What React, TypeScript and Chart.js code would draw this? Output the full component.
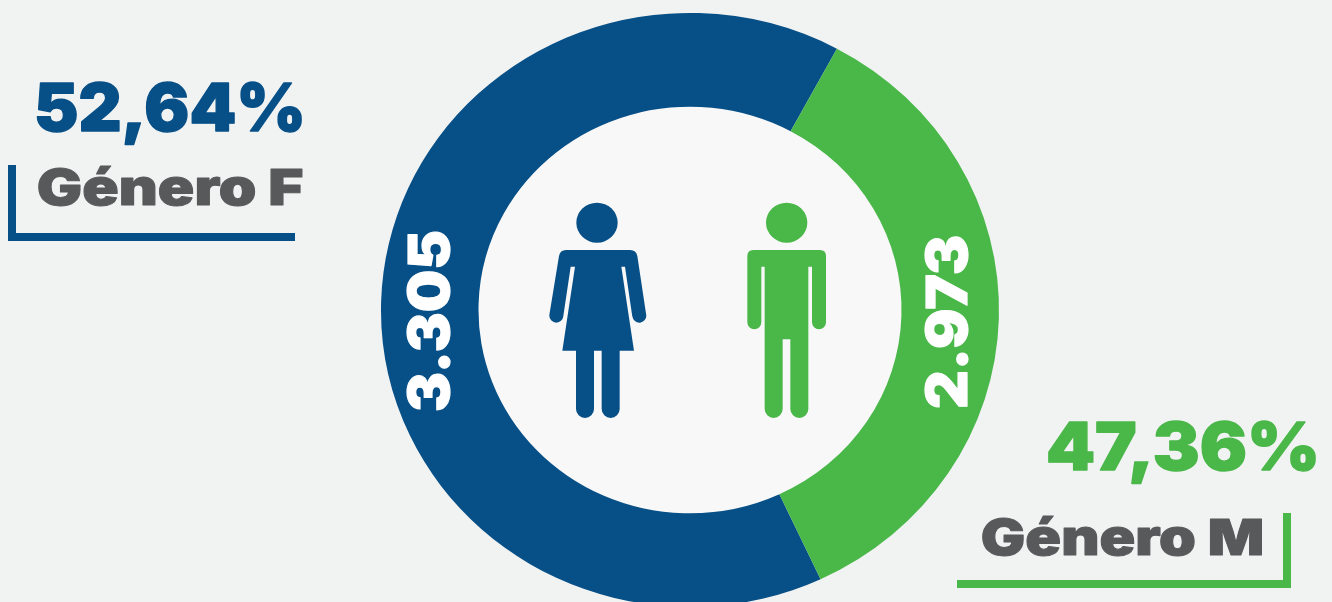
import React, { useEffect, useRef } from "react";
import { Chart, registerables } from "chart.js";

Chart.register(...registerables);

// Slice sizes as they are drawn in the picture (its arcs are not proportional to the printed counts)
const categories = ["Género F", "Género M"];
const sliceShares = [64.83, 35.17];
const countLabels = ["3.305", "2.973"];
const percentLabels = ["52,64%", "47,36%"];

const BG = "#f1f3f3";
const DISC = "#f8f8f9";
const BLUE = "#074f87";
const GREEN = "#4ab749";
const GRAY = "#58595b";
const WHITE = "#ffffff";
const FONT = "Inter, 'Noto Sans', sans-serif";
const SQUASH = 0.9612;
const CENTER_Y = 310;

function fitText(
  ctx: CanvasRenderingContext2D,
  text: string,
  x: number,
  baseline: number,
  width: number,
  size: number,
  color: string,
  rotate = false
) {
  ctx.save();
  ctx.font = `900 ${size}px ${FONT}`;
  ctx.fillStyle = color;
  ctx.strokeStyle = color;
  ctx.lineJoin = "round";
  ctx.lineWidth = size * 0.02;
  ctx.textAlign = "left";
  ctx.textBaseline = "alphabetic";
  const m = ctx.measureText(text);
  const left = m.actualBoundingBoxLeft;
  const w = m.actualBoundingBoxLeft + m.actualBoundingBoxRight;
  if (rotate) {
    ctx.translate(baseline, x);
    ctx.rotate(-Math.PI / 2);
  } else {
    ctx.translate(x, baseline);
  }
  ctx.scale(width / w, 1);
  ctx.fillText(text, left, 0);
  ctx.strokeText(text, left, 0);
  ctx.restore();
}

function womanIcon(ctx: CanvasRenderingContext2D) {
  ctx.save();
  ctx.translate(530, 190);
  ctx.scale(1 / 3, 1 / 3);
  ctx.fillStyle = BLUE;
  ctx.beginPath();
  ctx.ellipse(201, 98, 62, 60, 0, 0, Math.PI * 2);
  ctx.fill();
  ctx.beginPath();
  ctx.moveTo(108, 180);
  ctx.quadraticCurveTo(90, 180, 87, 198);
  ctx.lineTo(58, 375);
  ctx.arc(79, 377, 21, Math.PI, 0.1, true);
  ctx.lineTo(122, 230);
  ctx.lineTo(135, 230);
  ctx.lineTo(97, 482);
  ctx.lineTo(138, 482);
  ctx.lineTo(138, 657);
  ctx.arc(165, 657, 27, Math.PI, 0, true);
  ctx.lineTo(192, 482);
  ctx.lineTo(215, 482);
  ctx.lineTo(215, 657);
  ctx.arc(242, 657, 27, Math.PI, 0, true);
  ctx.lineTo(269, 482);
  ctx.lineTo(312, 482);
  ctx.lineTo(274, 230);
  ctx.lineTo(285, 230);
  ctx.lineTo(307, 380);
  ctx.arc(328, 377, 21, Math.PI - 0.1, 0, true);
  ctx.lineTo(322, 198);
  ctx.quadraticCurveTo(319, 180, 300, 180);
  ctx.closePath();
  ctx.fill();
  ctx.restore();
}

function manIcon(ctx: CanvasRenderingContext2D) {
  ctx.save();
  ctx.translate(530, 190);
  ctx.scale(1 / 3, 1 / 3);
  ctx.fillStyle = GREEN;
  ctx.beginPath();
  ctx.ellipse(770, 98, 62, 60, 0, 0, Math.PI * 2);
  ctx.fill();
  ctx.beginPath();
  ctx.moveTo(670, 180);
  ctx.quadraticCurveTo(652, 180, 652, 198);
  ctx.lineTo(652, 397);
  ctx.arc(673, 397, 21, Math.PI, 0, true);
  ctx.lineTo(694, 230);
  ctx.lineTo(704, 230);
  ctx.lineTo(704, 657);
  ctx.arc(731, 657, 27, Math.PI, 0, true);
  ctx.lineTo(758, 448);
  ctx.lineTo(781, 448);
  ctx.lineTo(781, 657);
  ctx.arc(808, 657, 27, Math.PI, 0, true);
  ctx.lineTo(835, 230);
  ctx.lineTo(846, 230);
  ctx.lineTo(846, 397);
  ctx.arc(867, 397, 21, Math.PI, 0, true);
  ctx.lineTo(888, 198);
  ctx.quadraticCurveTo(888, 180, 870, 180);
  ctx.closePath();
  ctx.fill();
  ctx.restore();
}

const decorations = {
  id: "decorations",
  beforeDatasetsDraw(chart: Chart) {
    const ctx = chart.ctx;
    const arc: any = chart.getDatasetMeta(0).data[0];
    // The reference ring is slightly squashed vertically: an ellipse, not a circle
    ctx.save();
    ctx.translate(0, CENTER_Y);
    ctx.scale(1, SQUASH);
    ctx.translate(0, -arc.y);
    ctx.fillStyle = DISC;
    ctx.beginPath();
    ctx.arc(arc.x, arc.y, arc.innerRadius, 0, Math.PI * 2);
    ctx.fill();
  },
  afterDatasetsDraw(chart: Chart) {
    const ctx = chart.ctx;
    ctx.restore();
    womanIcon(ctx);
    manIcon(ctx);

    fitText(ctx, countLabels[0], 410, 449, 178, 57, WHITE, true);
    fitText(ctx, countLabels[1], 408, 967, 172, 57, WHITE, true);

    fitText(ctx, percentLabels[0], 37, 131, 265, 66, BLUE);
    fitText(ctx, categories[0], 38, 205, 264, 50, GRAY);
    fitText(ctx, percentLabels[1], 1048, 470, 268, 66, GREEN);
    fitText(ctx, categories[1], 982, 555, 280, 50, GRAY);

    ctx.save();
    ctx.fillStyle = BLUE;
    ctx.fillRect(8, 165, 8, 76);
    ctx.fillRect(8, 233, 287, 8);
    ctx.fillStyle = GREEN;
    ctx.fillRect(1283, 513, 8, 75);
    ctx.fillRect(957, 580, 334, 8);
    ctx.restore();
  },
};

export default function App() {
  const ref = useRef<HTMLCanvasElement>(null);

  useEffect(() => {
    document.body.style.margin = "0";
    document.body.style.background = BG;
    const chart = new Chart(ref.current!, {
      type: "doughnut",
      data: {
        labels: categories,
        datasets: [
          {
            data: sliceShares,
            backgroundColor: [BLUE, GREEN],
            borderWidth: 0,
          },
        ],
      },
      options: {
        responsive: false,
        animation: false,
        rotation: 155,
        cutout: "68.45%",
        layout: { padding: { left: 48, top: 2, bottom: 2, right: 0 } },
        plugins: { legend: { display: false }, tooltip: { enabled: false } },
      },
      plugins: [decorations],
    } as any);
    return () => chart.destroy();
  }, []);

  return (
    <div style={{ position: "relative", width: 1332, height: 602, overflow: "hidden", background: BG }}>
      <canvas ref={ref} width={1332} height={622} style={{ display: "block", width: 1332, height: 622 }} />
    </div>
  );
}
